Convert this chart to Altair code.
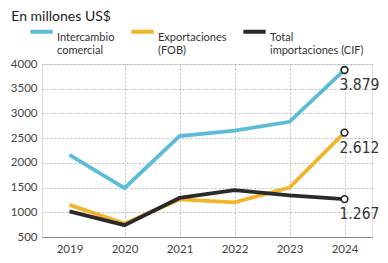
import altair as alt
import pandas as pd

years = ["2019", "2020", "2021", "2022", "2023", "2024"]
intercambio = [2160, 1490, 2540, 2650, 2830, 3879]
exportaciones = [1150, 770, 1260, 1200, 1500, 2612]
importaciones = [1020, 740, 1290, 1450, 1340, 1267]
series = ["Intercambio|comercial", "Exportaciones|(FOB)", "Total|importaciones (CIF)"]
colors = ["#5cbcd8", "#f2b52a", "#2a2a2a"]
end_labels = ["3.879", "2.612", "1.267"]

rows = []
for name, vals in zip(series, [intercambio, exportaciones, importaciones]):
    for y, v in zip(years, vals):
        rows.append({"year": y, "value": v, "serie": name})
df = pd.DataFrame(rows)

last = pd.DataFrame({
    "year": [years[-1]] * 3,
    "value": [intercambio[-1], exportaciones[-1], importaciones[-1]],
    "label": end_labels,
})

x = alt.X("year:O", title=None,
          axis=alt.Axis(labelAngle=0, ticks=False, domainColor="#888", domainWidth=1,
                        labelColor="#444", labelFontSize=11.5, labelPadding=6,
                        grid=True, bandPosition=0, gridDash=[2, 2], gridColor="#bbb",
                        gridOpacity={"condition": {"test": "datum.value == '2019'", "value": 0}, "value": 1}))
y = alt.Y("value:Q", title=None,
          scale=alt.Scale(domain=[500, 4000], nice=False, zero=False),
          axis=alt.Axis(tickCount=8, format="d", labelOverlap=False, labelSeparation=0,
                        domain=False, ticks=False,
                        labelColor="#444", labelFontSize=11.5, labelPadding=5,
                        gridDash=[2, 2], gridColor="#bbb"))

lines = alt.Chart(df).mark_line(strokeWidth=3.8).encode(
    x=x, y=y,
    color=alt.Color("serie:N",
                    scale=alt.Scale(domain=series, range=colors),
                    sort=series,
                    legend=alt.Legend(title=None, orient="none", direction="horizontal",
                                      legendX=-14, legendY=-46,
                                      symbolType="stroke", symbolStrokeWidth=4, symbolSize=500,
                                      labelExpr="split(datum.label, '|')",
                                      labelFontSize=11, labelColor="#333",
                                      columnPadding=8, labelOffset=2,
                                      labelBaseline="top")),
)

points = alt.Chart(last).mark_point(filled=True, fill="white", stroke="#222",
                                    strokeWidth=1.6, size=45, opacity=1).encode(
    x="year:O", y="value:Q")

texts = alt.Chart(last).mark_text(align="left", baseline="top", dx=-5, dy=8,
                                  font="DejaVu Sans Condensed",
                                  fontSize=15.5, color="#333").encode(
    x="year:O", y="value:Q", text="label:N")

chart = alt.layer(lines, points, texts).properties(
    width=330, height=173,
    title=alt.TitleParams("En millones US$", anchor="start", fontSize=14,
                          fontWeight="normal", color="#222", dx=1, offset=-6),
    padding={"left": 2, "top": 2, "right": 0, "bottom": 0},
).configure_view(stroke=None).configure(font="Lato")

chart.save("out.html", embed_options={"renderer": "svg", "actions": False})
